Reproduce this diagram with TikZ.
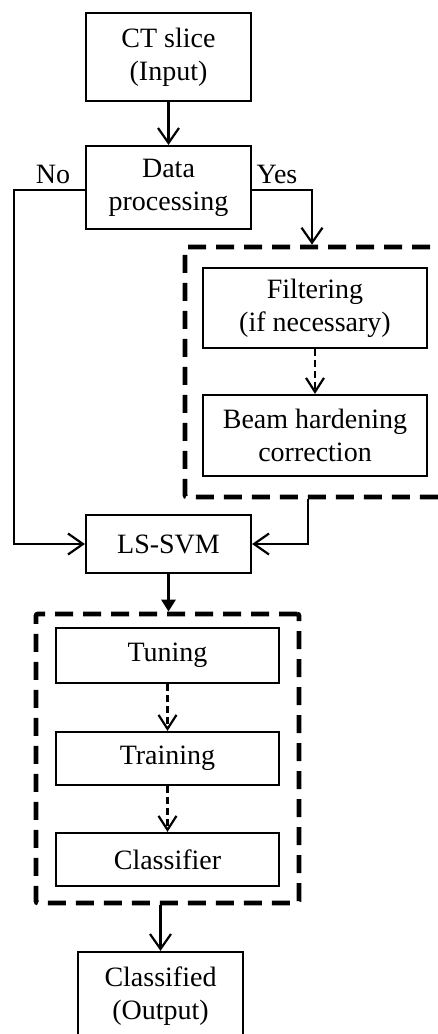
\documentclass[tikz,border=0pt]{standalone}
\usepackage{fontspec}
\setmainfont{Liberation Serif}
\usetikzlibrary{shapes, arrows.meta, positioning}

\begin{document}
\begin{tikzpicture}[x=1pt, y=-1pt, font=\fontsize{28}{33}\selectfont]
    \useasboundingbox (0,0) rectangle (438,1034);
    \tikzstyle{block} = [draw, line width=2.2pt, align=center, inner sep=0pt]
    \tikzstyle{group} = [draw, line width=4.8pt, dash pattern=on 18pt off 10pt, rounded corners=2pt, inner sep=0pt]
    % main column
    \node[block,
        minimum width=165pt,
        minimum height=88pt] at (168.5,57) (ctslice) {CT slice\\(Input)};
    \node[block,
        minimum width=165pt,
        minimum height=83pt] at (168.5,187.5) (processing) {Data\\processing};
    \node[block,
        minimum width=165pt,
        minimum height=58pt] at (168.5,544) (lssvm) {LS-SVM};
    \node[block,
        minimum width=165pt,
        minimum height=88pt] at (160.5,996) (classified) {Classified\\(Output)};
    % pre-processing
    \node[group,
        minimum width=275pt,
        minimum height=250pt] at (322.5,372) (preproc) {};
    \node[block,
        minimum width=224pt,
        minimum height=80pt] at (315,308) (filtering) {Filtering\\(if necessary)};
    \node[block,
        minimum width=224pt,
        minimum height=81pt] at (315,435.5) (beamhard) {Beam hardening\\correction};
    % learning
    \node[group,
        minimum width=263pt,
        minimum height=289pt] at (167.5,758.5) (learning) {};
    \node[block,
        minimum width=223pt,
        minimum height=55pt] at (167.5,655.5) (tuning) {Tuning};
    \node[block,
        minimum width=223pt,
        minimum height=53pt] at (167.5,758.5) (training) {Training};
    \node[block,
        minimum width=223pt,
        minimum height=53pt] at (167.5,859.5) (classifier) {Classifier};
    \node[anchor=base] at (53,183) (no) {No};
    \node[anchor=base] at (277,183) (yes) {Yes};
    \coordinate (noturn) at (14,190);
    \coordinate (yesturn) at (312,190);
    \coordinate (backturn) at (308,544);
    \tikzstyle{connector} = [draw, line width=2.2pt, -{Straight Barb[length=15pt,width=21pt]}];
    \tikzstyle{dconn} = [draw, line width=2.2pt, dash pattern=on 7pt off 4pt, -{Straight Barb[length=14pt,width=18pt]}];
    \tikzstyle{bold} = [draw, line width=3.8pt, -{Triangle[length=12pt,width=14pt]}];
    \path[connector] (ctslice) -- (processing);
    \path[connector] (processing.west |- noturn) -- (noturn) |- (lssvm.west);
    \path[connector] (processing.east |- yesturn) -- (yesturn) -- (yesturn |- preproc.north);
    \path[dconn] (filtering) -- (beamhard);
    \path[connector] (preproc.south -| backturn) -- (backturn) -- (lssvm.east);
    \path[bold] (lssvm.south) -- (lssvm.south |- learning.north);
    \path[dconn] (tuning) -- (training);
    \path[dconn] (training) -- (classifier);
    \path[connector] (learning.south -| classified.north) -- (classified.north);
\end{tikzpicture}
\end{document}
